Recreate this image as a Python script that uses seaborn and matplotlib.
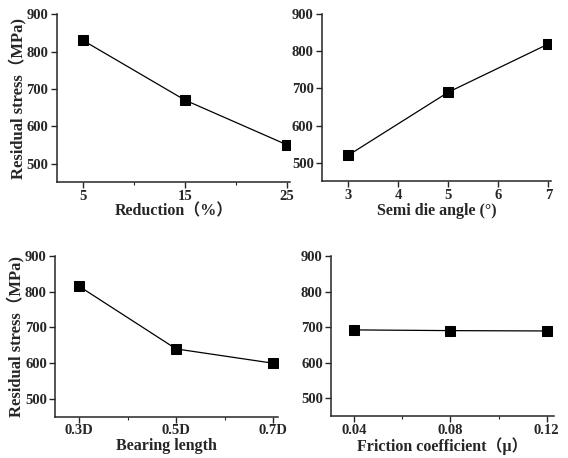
import matplotlib
matplotlib.use('Agg')
import matplotlib.pyplot as plt
import seaborn as sns
import pandas as pd

# 數據
reduction = [5, 15, 25]
stress_reduction = [830, 670, 550]

die_angle = [3, 5, 7]
stress_angle = [520, 690, 820]

bearing = [0.3, 0.5, 0.7]
bearing_labels = ['0.3D', '0.5D', '0.7D']
stress_bearing = [815, 640, 600]

friction = [0.04, 0.08, 0.12]
friction_labels = ['0.04', '0.08', '0.12']
stress_friction = [692, 690, 689]

y_ticks = [500, 600, 700, 800, 900]

sns.set_style('ticks')
plt.rcParams['font.family'] = ['Liberation Serif', 'Noto Sans CJK SC', 'DejaVu Sans']
plt.rcParams['font.weight'] = 'bold'
plt.rcParams['axes.labelweight'] = 'bold'

fig = plt.figure(figsize=(5.68, 4.58), dpi=100)
ax1 = fig.add_axes([0.100, 0.602, 0.411, 0.367])
ax2 = fig.add_axes([0.567, 0.604, 0.403, 0.365])
ax3 = fig.add_axes([0.097, 0.090, 0.392, 0.351])
ax4 = fig.add_axes([0.583, 0.092, 0.392, 0.349])

panels = [
    (ax1, reduction, stress_reduction, 'Reduction（%）', (2.45, 25.3)),
    (ax2, die_angle, stress_angle, 'Semi die angle (°)', (2.48, 7.05)),
    (ax3, bearing, stress_bearing, 'Bearing length', (0.25, 0.71)),
    (ax4, friction, stress_friction, 'Friction coefficient（μ）', (0.0305, 0.1229)),
]

for ax, x, y, xlabel, xlim in panels:
    df = pd.DataFrame({'x': x, 'y': y})
    sns.lineplot(data=df, x='x', y='y', ax=ax, color='black', linewidth=0.9,
                 marker='s', markersize=7, markeredgecolor='black', markerfacecolor='black')
    ax.set_xlim(*xlim)
    ax.set_ylim(450, 900)
    ax.set_yticks(y_ticks)
    ax.set_xlabel(xlabel, fontsize=11.5, fontweight='bold', labelpad=0.5)
    ax.set_ylabel('')
    sns.despine(ax=ax)
    ax.tick_params(direction='out', length=4, width=1, labelsize=10.5, pad=2)
    ax.tick_params(axis='x', pad=1.5)
    ax.tick_params(which='minor', direction='out', length=2, width=0.8)
    for s in ['left', 'bottom']:
        ax.spines[s].set_linewidth(1.1)

ax1.set_xticks(reduction)
ax1.set_xticks([10, 20], minor=True)
ax2.set_xticks([3, 4, 5, 6, 7])
ax3.set_xticks(bearing)
ax3.set_xticklabels(bearing_labels)
ax3.set_xticks([0.4, 0.6], minor=True)
ax4.set_xticks(friction)
ax4.set_xticklabels(friction_labels)
ax4.set_xticks([0.06, 0.10], minor=True)

for ax in [ax1, ax3]:
    ax.set_ylabel('Residual stress（MPa)', fontsize=12, fontweight='bold', labelpad=0)

fig.canvas.draw()
for ax in [ax1, ax2, ax3, ax4]:
    for lbl in ax.get_xticklabels() + ax.get_yticklabels():
        lbl.set_fontweight('bold')
        lbl.set_fontsize(10.5)

fig.savefig('out.png', dpi=100)
